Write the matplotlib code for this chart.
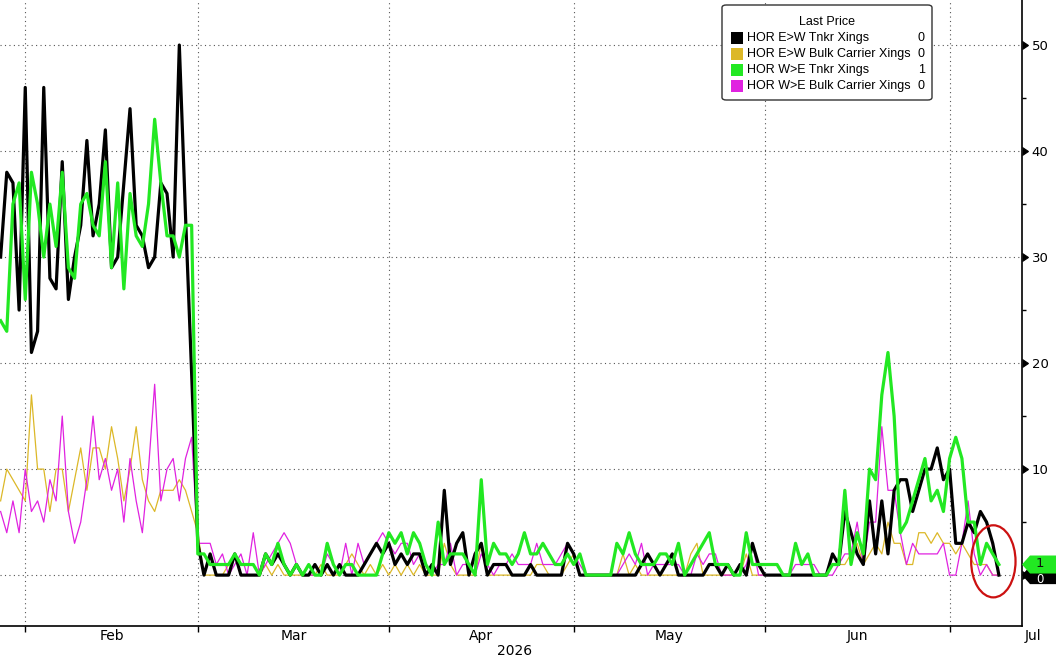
import numpy as np
import pandas as pd
import matplotlib
matplotlib.use("Agg")
import matplotlib.pyplot as plt
import matplotlib.dates as mdates
import matplotlib.markers as mmarkers
import matplotlib.transforms as mtransforms
from matplotlib.patches import Ellipse, FancyBboxPatch, Rectangle, Polygon

# Daily crossings, Jan 28 - Jul 9 2026
dates = pd.date_range("2026-01-28", periods=163, freq="D")

ew_tnkr = [30, 38, 37, 25, 46, 21, 23, 46, 28, 27, 39, 26, 30, 33, 41, 32, 35, 42, 29, 30,
           37, 44, 33, 32, 29, 30, 37, 36, 30, 50, 34, 19, 3, 0,
           2, 0, 0, 0, 2, 0, 0, 0, 0, 2, 1, 2, 1, 0, 1, 0, 0, 1, 0, 1, 0, 1, 0, 0, 0, 1,
           2, 3, 2, 3, 1, 2,
           1, 2, 2, 0, 1, 0, 8, 1, 3, 4, 0, 2, 3, 0, 1, 1, 1, 0, 0, 0, 1, 0, 0, 0, 0, 0,
           3, 2, 0, 0, 0, 0, 0, 0, 0,
           0, 0, 0, 1, 2, 1, 0, 1, 2, 0, 0, 0, 0, 0, 1, 1, 0, 1, 0, 1, 0, 3, 1, 0, 0, 0,
           0, 0, 0, 0, 0, 0, 0, 0,
           2, 1, 6, 4, 2, 1, 7, 2, 7, 2, 8, 9, 9, 6, 8, 10, 10, 12, 9, 10, 3, 3, 5, 4, 6,
           5, 3, 0]

ew_bulk = [7, 10, 9, 8, 7, 17, 10, 10, 6, 10, 10, 6, 9, 12, 8, 12, 12, 10, 14, 11,
           7, 10, 14, 9, 7, 6, 8, 8, 8, 9, 8, 6, 4, 0,
           0, 0, 0, 1, 2, 0, 0, 0, 0, 1, 0, 1, 0, 0, 0, 0, 0, 0, 1, 0, 0, 0, 1, 2, 1, 0,
           1, 0, 1, 0, 1, 0,
           1, 0, 1, 0, 0, 0, 3, 1, 0, 0, 0, 0, 3, 0, 0, 0, 0, 0, 0, 0, 0, 1, 1, 0, 0, 0,
           1, 2, 0, 0, 0, 0, 0, 0, 0,
           2, 0, 1, 0, 0, 0, 0, 0, 0, 0, 0, 2, 3, 0, 0, 0, 0, 0, 0, 0, 2, 0, 0, 0, 0, 0,
           0, 0, 0, 0, 0, 0, 0, 0, 1, 1,
           1, 2, 3, 1, 2, 3, 2, 5, 3, 3, 1, 1, 4, 4, 3, 4, 3, 3, 2, 3, 2, 1, 1, 1, 0, 0]

we_tnkr = [24, 23, 35, 37, 26, 38, 35, 30, 35, 31, 38, 29, 28, 35, 36, 33, 32, 39, 29, 37,
           27, 36, 32, 31, 35, 43, 37, 32, 32, 30, 33, 33,
           2, 2, 1, 1, 1, 1, 2, 1, 1, 1, 0, 2, 1, 3, 1, 0, 1, 0, 1, 0, 0, 3, 1, 0, 1, 1,
           0, 0, 0, 0, 2, 4, 3, 4,
           2, 4, 3, 1, 0, 5, 1, 2, 2, 2, 1, 0, 9, 1, 3, 2, 2, 1, 2, 4, 2, 2, 3, 2, 1, 1,
           2, 1, 2, 0, 0, 0, 0, 0, 3,
           2, 4, 2, 1, 1, 1, 2, 2, 1, 3, 0, 1, 2, 3, 4, 1, 1, 1, 0, 0, 4, 1, 1, 1, 1, 1,
           0, 0, 3, 1, 2, 0, 0, 0, 1, 1,
           8, 1, 4, 2, 10, 9, 17, 21, 15, 4, 5, 7, 9, 11, 7, 8, 6, 11, 13, 11, 5, 5, 1, 3,
           2, 1]

we_bulk = [6, 4, 7, 4, 10, 6, 7, 5, 9, 7, 15, 6, 3, 5, 9, 15, 9, 11, 8, 10,
           5, 11, 7, 4, 10, 18, 7, 10, 11, 7, 11, 13, 3, 3,
           3, 1, 2, 0, 1, 2, 0, 4, 0, 1, 2, 3, 4, 3, 1, 0, 0, 0, 0, 2, 1, 0, 3, 0, 3, 1,
           2, 3, 4, 3, 2, 3,
           3, 1, 2, 1, 0, 1, 1, 3, 0, 1, 1, 0, 2, 1, 0, 1, 1, 2, 1, 1, 1, 3, 1, 1, 1, 2,
           3, 2, 1, 0, 0, 0, 0, 0, 0,
           1, 2, 1, 3, 0, 1, 1, 1, 1, 1, 0, 0, 2, 1, 2, 2, 0, 0, 0, 0, 1, 3, 0, 0, 0, 0,
           0, 0, 1, 1, 1, 1, 0, 0, 0, 1,
           2, 2, 5, 1, 5, 5, 14, 8, 8, 4, 1, 3, 2, 2, 2, 2, 3, 0, 0, 3, 7, 2, 0, 1, 0, 0]

series_names = ["HOR E>W Tnkr Xings", "HOR E>W Bulk Carrier Xings",
                "HOR W>E Tnkr Xings", "HOR W>E Bulk Carrier Xings"]
last_values = [0, 0, 1, 0]
month_labels = ["Feb", "Mar", "Apr", "May", "Jun", "Jul"]
month_starts = pd.date_range("2026-02-01", periods=6, freq="MS")
y_ticks = [0, 10, 20, 30, 40, 50]

C_BLACK = "#000000"
C_YELLOW = "#dcb828"
C_GREEN = "#22e822"
C_MAGENTA = "#e022e0"

W, H = 1056, 659
fig = plt.figure(figsize=(W / 100, H / 100), dpi=100)
ax = fig.add_axes([0, 33 / H, 1022 / W, 626 / H])

# thick tanker lines, thin bulk lines
ax.plot(dates, ew_bulk, color=C_YELLOW, lw=0.9, zorder=3)
ax.plot(dates, we_bulk, color=C_MAGENTA, lw=0.9, zorder=3)
ax.plot(dates, ew_tnkr, color=C_BLACK, lw=2.3, zorder=4)
ax.plot(dates, we_tnkr, color=C_GREEN, lw=2.3, zorder=5)

x0 = mdates.date2num(dates[0])
ax.set_xlim(x0 - 0.1, x0 + 165.75)
ax.set_ylim(-4.8, 54.25)

# axes frame
for side in ["left", "top"]:
    ax.spines[side].set_visible(False)
for side in ["right", "bottom"]:
    ax.spines[side].set_linewidth(1.2)
    ax.spines[side].set_color("black")

ax.yaxis.tick_right()
ax.set_yticks(y_ticks)
# the 0 label sits under the last-value tags
ax.set_yticklabels([""] + [str(v) for v in y_ticks[1:]])
ax.set_yticks([5, 15, 25, 35, 45], minor=True)
ax.tick_params(axis="y", which="major", length=0, pad=7, labelsize=9.5)
ax.tick_params(axis="y", which="minor", length=3, width=1, direction="out")
for t in ax.yaxis.get_major_ticks():
    t.tick2line.set_marker(mmarkers.CARETRIGHTBASE)
    t.tick2line.set_markersize(6)
    t.tick2line.set_color("black")

ax.set_xticks(mdates.date2num(month_starts))
ax.set_xticklabels([])
ax.tick_params(axis="x", which="major", length=4, width=1, direction="out")

ax.grid(True, which="major", linestyle=(0, (1, 3)), color="#555555", linewidth=0.8)
ax.set_axisbelow(True)

# month labels centered in each month interval
xlab = mtransforms.blended_transform_factory(ax.transData, ax.transAxes)
for m, lab in zip(month_starts, month_labels):
    xm = min(mdates.date2num(m) + m.days_in_month / 2, x0 + 167.5)
    ax.text(xm, -10 / 626, lab, transform=xlab, ha="center", va="center",
            fontsize=10, family=["Liberation Sans Narrow", "DejaVu Sans"], clip_on=False)
fig.text(515 / W, 1 - 651 / H, "2026", ha="center", va="center",
         fontsize=10, family=["Liberation Sans Narrow", "DejaVu Sans"])

# red highlight circle at the end of the series
ax.add_patch(Ellipse((x0 + 161.1, 1.3), width=7.2, height=6.8, fill=False,
                     edgecolor="#cc1111", lw=1.6, zorder=6))

# last value tags on the right axis
ytag = mtransforms.blended_transform_factory(ax.transAxes, ax.transData)
tip = 8 / 1022
right = 34 / 1022
half = 0.85
for val, fc, tc, dy, fs in [(0, C_BLACK, "white", -0.4, 8.5), (1, C_GREEN, "#111111", 0.1, 9.5)]:
    pts = [(1.0, val), (1.0 + tip, val + half), (1.0 + right, val + half),
           (1.0 + right, val - half), (1.0 + tip, val - half)]
    ax.add_patch(Polygon(pts, closed=True, transform=ytag, facecolor=fc,
                         edgecolor="none", clip_on=False, zorder=8))
    ax.text(1.0 + 14 / 1022, val + dy, str(val), transform=ytag, ha="left", va="center",
            fontsize=fs, color=tc, clip_on=False, zorder=9)

# legend box drawn in pixel layout
def fx(x):
    return x / W


def fy(y):
    return 1 - y / H


fig.patches.append(FancyBboxPatch((fx(722), fy(100)), fx(932) - fx(722), fy(5) - fy(100),
                                  boxstyle="round,pad=0,rounding_size=0.004",
                                  transform=fig.transFigure, facecolor="white",
                                  edgecolor="#333333", lw=1.0, zorder=10))
lfont = ["Liberation Sans", "DejaVu Sans"]
fig.text(fx(827), fy(22), "Last Price", ha="center", va="center", fontsize=9,
         family=lfont, zorder=11)
colors = [C_BLACK, C_YELLOW, C_GREEN, C_MAGENTA]
rows_y = [38, 54, 70, 86]
for name, val, c, yy in zip(series_names, last_values, colors, rows_y):
    fig.patches.append(Rectangle((fx(731), fy(yy + 6)), fx(743) - fx(731), fy(yy - 6) - fy(yy + 6),
                                 transform=fig.transFigure, facecolor=c, edgecolor="none",
                                 zorder=11))
    fig.text(fx(747), fy(yy), name, ha="left", va="center", fontsize=9, family=lfont, zorder=11)
    fig.text(fx(925), fy(yy), str(val), ha="right", va="center", fontsize=9, family=lfont,
             zorder=11)

fig.savefig("out.png", dpi=100)
